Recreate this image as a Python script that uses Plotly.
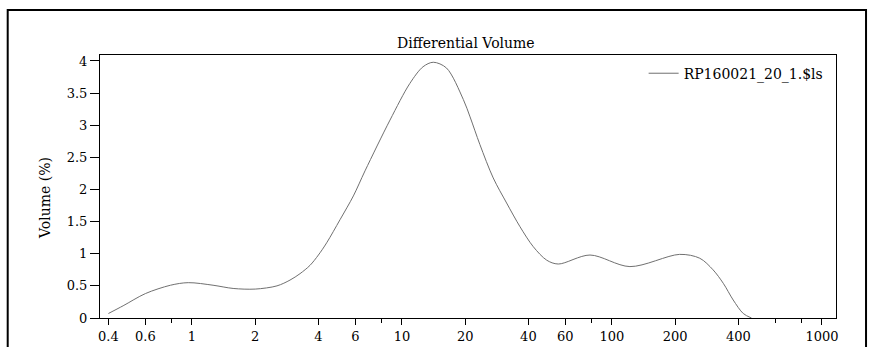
import plotly.graph_objects as go

# Particle size (µm) and differential volume (%)
size_um = [0.4, 0.47, 0.6, 0.79, 0.96, 1.26, 1.57, 2.0, 2.54, 2.93, 3.27, 3.65, 4.0, 4.38,
           5.07, 5.87, 6.67, 8.77, 10.9, 12.6, 14.1, 16.3, 19.6, 21.1, 23.5, 27.2, 31.5,
           36.5, 42.2, 48.9, 55.5, 78.6, 121.8, 210, 262, 303, 339, 378, 422, 462]
volume_pct = [0.07, 0.19, 0.38, 0.51, 0.55, 0.51, 0.46, 0.45, 0.50, 0.59, 0.69, 0.82, 0.98, 1.17,
              1.53, 1.90, 2.29, 3.08, 3.65, 3.91, 3.98, 3.89, 3.40, 3.13, 2.70, 2.18, 1.79,
              1.42, 1.11, 0.90, 0.84, 0.98, 0.80, 0.99, 0.93, 0.75, 0.54, 0.28, 0.07, 0.0]

series_name = "RP160021_20_1.$ls"
x_tickvals = [0.4, 0.6, 1, 2, 4, 6, 10, 20, 40, 60, 100, 200, 400, 1000]
x_ticktext = ["0.4", "0.6", "1", "2", "4", "6", "10", "20", "40", "60", "100", "200", "400", "1000"]
x_minor = [0.8, 8, 80, 600, 800]
y_tickvals = [0, 0.5, 1, 1.5, 2, 2.5, 3, 3.5, 4]
y_ticktext = ["0", "0.5", "1", "1.5", "2", "2.5", "3", "3.5", "4"]

FONT = "DejaVu Serif"

fig = go.Figure()
fig.add_trace(go.Scatter(
    x=size_um, y=volume_pct, mode="lines", name=series_name,
    line=dict(color="#707070", width=1, shape="spline", smoothing=0.9),
    showlegend=True,
))

fig.update_layout(
    width=871, height=347,
    margin=dict(l=100, r=35, t=55, b=29),
    paper_bgcolor="white", plot_bgcolor="white",
    font=dict(family=FONT, size=13, color="black"),
    showlegend=True,
    legend=dict(x=0.99, xanchor="right", y=0.99, yanchor="top",
                bgcolor="rgba(0,0,0,0)", borderwidth=0,
                font=dict(family=FONT, size=14, color="black")),
    xaxis=dict(type="log", range=[-0.438, 3.067], automargin=False,
               tickvals=x_tickvals, ticktext=x_ticktext,
               ticks="outside", ticklen=6, tickcolor="black", tickwidth=1,
               showline=True, linecolor="black", linewidth=1, mirror=True,
               showgrid=False, zeroline=False,
               minor=dict(tickvals=x_minor, ticks="outside", ticklen=4, tickcolor="black"),
               tickfont=dict(family=FONT, size=13)),
    yaxis=dict(range=[0, 4.093], automargin=False,
               tickvals=y_tickvals, ticktext=y_ticktext,
               ticks="outside", ticklen=9, tickcolor="black", tickwidth=1,
               showline=True, linecolor="black", linewidth=1, mirror=True,
               showgrid=False, zeroline=False,
               tickfont=dict(family=FONT, size=13)),
    shapes=[dict(type="rect", xref="paper", yref="paper",
                 x0=-0.1254, x1=1.0408, y0=-0.3, y1=1.171,
                 line=dict(color="black", width=2), fillcolor="rgba(0,0,0,0)", layer="below")],
    annotations=[
        dict(text="Differential Volume", xref="paper", yref="paper",
             x=(466 - 100) / 736, y=(318 - 43) / 263, xanchor="center", yanchor="middle",
             showarrow=False, font=dict(family=FONT, size=14)),
        dict(text="Volume (%)", xref="paper", yref="paper",
             x=(45 - 100) / 736, y=(318 - 198) / 263, xanchor="center", yanchor="middle",
             textangle=-90, showarrow=False, font=dict(family=FONT, size=14)),
    ],
)

fig.write_html("out.html", config={"displayModeBar": False},
               post_script="document.body.style.margin='0';")
